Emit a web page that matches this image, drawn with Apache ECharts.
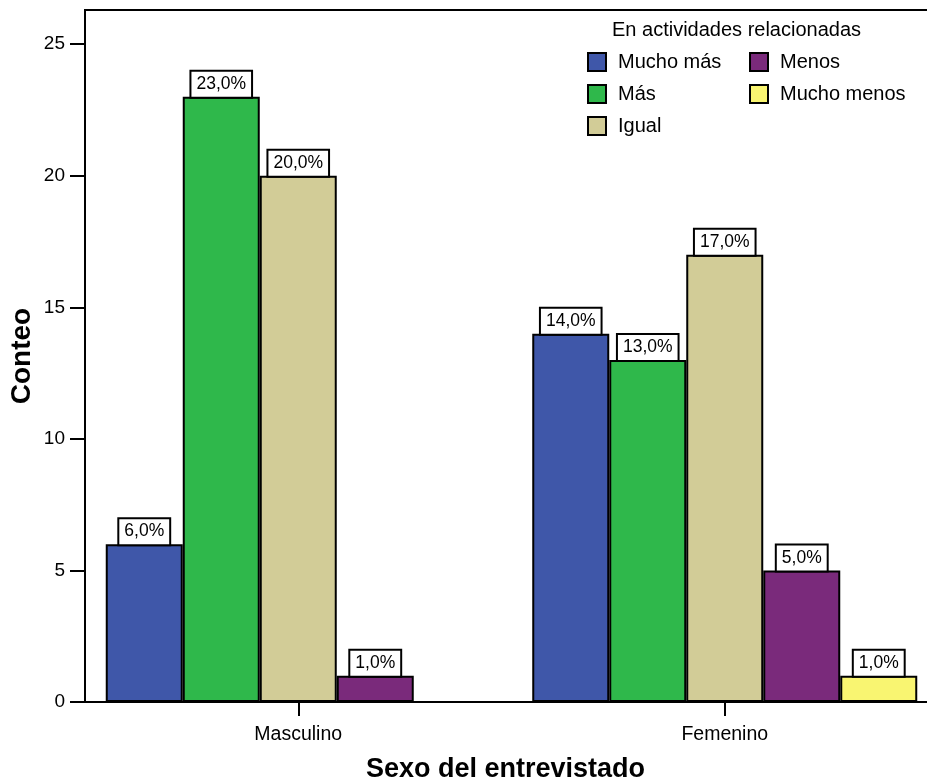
<!DOCTYPE html>
<html>
<head>
<meta charset="utf-8">
<script src="https://cdn.jsdelivr.net/npm/echarts@6/dist/echarts.min.js"></script>
<style>
  html, body { margin: 0; padding: 0; background: #fff; overflow: hidden; }
  #chart { width: 927px; height: 778px; }
</style>
</head>
<body>
<div id="chart"></div>
<script>
// Respondent sex (x categories)
const categories = ['Masculino', 'Femenino'];

// Response groups for "En actividades relacionadas"
const seriesNames = ['Mucho más', 'Más', 'Igual', 'Menos', 'Mucho menos'];

// Counts per group (Masculino, Femenino); null = no respondents
const muchoMas   = [6, 14];
const mas        = [23, 13];
const igual      = [20, 17];
const menos      = [1, 5];
const muchoMenos = [null, 1];

const seriesValues = [muchoMas, mas, igual, menos, muchoMenos];
const seriesColors = ['#3F57A9', '#2FB84B', '#D2CC97', '#7A2A7B', '#F9F571'];

const yTicks = [0, 5, 10, 15, 20, 25];

const FONT = '"Liberation Sans", Arial, Helvetica, sans-serif';

const chart = echarts.init(document.getElementById('chart'), null, { renderer: 'canvas' });

const series = seriesNames.map((name, i) => ({
  name: name,
  type: 'bar',
  data: seriesValues[i],
  barWidth: 77,
  barGap: '0%',
  itemStyle: {
    color: seriesColors[i],
    borderColor: '#000',
    borderWidth: 2
  },
  label: {
    show: true,
    position: 'top',
    distance: 0,
    formatter: p => (p.value == null ? '' : p.value.toFixed(1).replace('.', ',') + '%'),
    color: '#000',
    fontFamily: FONT,
    fontSize: 17.5,
    lineHeight: 19,
    backgroundColor: '#fff',
    borderColor: '#000',
    borderWidth: 2,
    padding: [3, 5, 3, 5]
  },
  emphasis: { disabled: true }
}));

const legendCommon = {
  orient: 'vertical',
  icon: 'rect',
  padding: 0,
  itemWidth: 18,
  itemHeight: 18,
  itemGap: 12,
  textStyle: { fontFamily: FONT, fontSize: 20, lineHeight: 20, color: '#000', padding: [0, 0, 0, 7] },
  itemStyle: { borderColor: '#000', borderWidth: 2 },
  selectedMode: false,
  top: 52
};

chart.setOption({
  animation: false,
  backgroundColor: '#fff',
  textStyle: { fontFamily: FONT },
  grid: {
    left: 85,
    top: 10,
    width: 853,
    bottom: 76,
    show: true,
    borderColor: '#000',
    borderWidth: 2,
    containLabel: false,
    outerBoundsMode: 'none'
  },
  legend: [
    Object.assign({ data: seriesNames.slice(0, 3), left: 587 }, legendCommon),
    Object.assign({ data: seriesNames.slice(3), left: 749 }, legendCommon)
  ],
  graphic: [
    {
      type: 'text',
      left: 612,
      top: 20,
      style: {
        text: 'En actividades relacionadas',
        font: '20px ' + FONT,
        fill: '#000'
      }
    }
  ],
  xAxis: {
    type: 'category',
    data: categories,
    name: 'Sexo del entrevistado',
    nameLocation: 'middle',
    nameGap: 54,
    nameTextStyle: {
      fontFamily: FONT,
      fontSize: 27,
      fontWeight: 'bold',
      color: '#000',
      padding: [0, 12, 0, 0]
    },
    axisLine: { lineStyle: { color: '#000', width: 2 } },
    axisTick: { show: true, alignWithLabel: true, length: 14, lineStyle: { color: '#000', width: 2 } },
    axisLabel: { fontFamily: FONT, fontSize: 19.5, color: '#000', margin: 23 },
    splitLine: { show: false }
  },
  yAxis: {
    type: 'value',
    min: 0,
    max: 26.3,
    interval: 5,
    name: 'Conteo',
    nameLocation: 'middle',
    nameRotate: 90,
    nameGap: 49,
    nameMoveOverlap: false,
    nameTextStyle: {
      fontFamily: FONT,
      fontSize: 28,
      fontWeight: 'bold',
      color: '#000'
    },
    axisLine: { show: true, lineStyle: { color: '#000', width: 2 } },
    axisTick: {
      show: true,
      length: 15,
      customValues: yTicks,
      lineStyle: { color: '#000', width: 2 }
    },
    axisLabel: {
      fontFamily: FONT,
      fontSize: 19,
      color: '#000',
      margin: 20,
      customValues: yTicks
    },
    splitLine: { show: false }
  },
  series: series
});
</script>
</body>
</html>
